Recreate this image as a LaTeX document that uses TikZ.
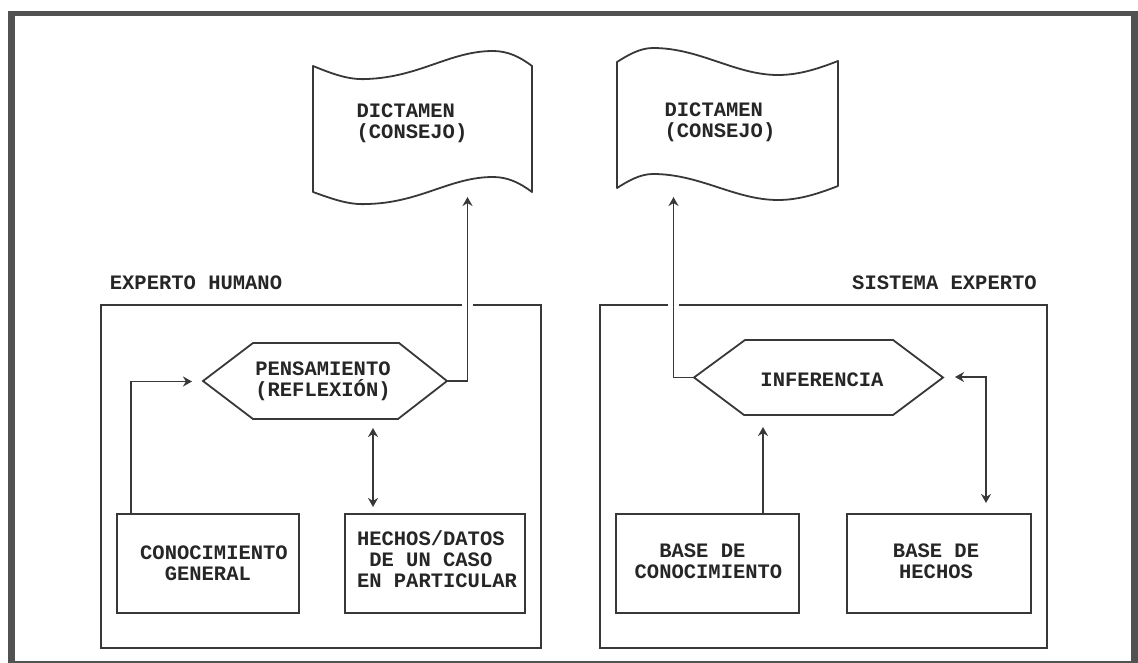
\documentclass[tikz,border=0pt]{standalone}
\usepackage{fontspec}
\setmonofont{Liberation Mono}[BoldFont={Liberation Mono Bold}]
\usetikzlibrary{arrows.meta,calc}
\tikzset{
  ink/.style={draw=black!78,line width=1.8pt},
  frameline/.style={draw=black!68,line cap=butt},
  boxnode/.style={ink,rectangle,inner sep=0pt,outer sep=0pt},
  anchornode/.style={rectangle,inner sep=0pt,outer sep=0pt},
  flagpath/.style={ink,fill=white,line join=round},
  hexpath/.style={ink,line join=miter},
  label/.style={font=\ttfamily\bfseries\fontsize{20.5}{21}\selectfont,text=black!85,inner sep=0pt,outer sep=0pt},
  conn/.style={ink,-{Stealth[length=9pt,width=10pt]}},
  conntwo/.style={ink,{Stealth[length=9pt,width=10pt]}-{Stealth[length=9pt,width=10pt]}},
  gapmask/.style={draw=white,line width=11pt}
}
\begin{document}
\begin{tikzpicture}[x=1pt,y=-1pt]
\useasboundingbox (0,0) rectangle (1138,663);
% outer frame
\draw[frameline,line width=7pt] (11.5,11) -- (11.5,663);
\draw[frameline,line width=5pt] (8,13.5) -- (1138,13.5);
\draw[frameline,line width=7pt] (1134.5,11) -- (1134.5,663);
\draw[frameline,line width=2.5pt] (8,661.8) -- (1138,661.8);
% containers
\node[boxnode,minimum width=440pt,minimum height=343pt] (humano) at (321,476.5) {};
\node[boxnode,minimum width=447pt,minimum height=343pt] (sistema) at (823.5,476.5) {};
% gaps in the containers' top edges
\coordinate (gapA) at (467.5,305);
\coordinate (gapB) at (673.5,305);
\draw[gapmask] ($(gapA)+(0,-3)$) -- ($(gapA)+(0,3)$);
\draw[gapmask] ($(gapB)+(0,-3)$) -- ($(gapB)+(0,3)$);
% flags
\draw[flagpath] (313,66) .. controls (335,75) and (350,80) .. (367,79)
  .. controls (420,77) and (450,51) .. (493,51)
  .. controls (508,51) and (520,57) .. (532,66) -- (532,192)
  .. controls (520,183) and (508,177) .. (493,177)
  .. controls (450,177) and (420,203) .. (367,204)
  .. controls (350,205) and (335,200) .. (313,192) -- cycle;
\draw[flagpath] (617,62) .. controls (628,55) and (640,48) .. (653,48)
  .. controls (700,48) and (735,75) .. (778,75)
  .. controls (800,75) and (820,68) .. (838,61) -- (838,186)
  .. controls (820,193) and (800,200) .. (778,200)
  .. controls (735,200) and (700,174) .. (653,174)
  .. controls (640,174) and (628,181) .. (617,188) -- cycle;
\coordinate (flagAin) at (467.5,197);
\coordinate (flagBin) at (673.5,197);
% hexagons
\node[anchornode,minimum width=244pt,minimum height=76pt] (pens) at (325,381) {};
\draw[hexpath] (pens.west) -- (253,343) -- (399,343) -- (pens.east) -- (398,419) -- (253,419) -- cycle;
\node[anchornode,minimum width=249pt,minimum height=75pt] (infer) at (818.5,377.5) {};
\draw[hexpath] (infer.west) -- (745,340) -- (893,340) -- (infer.east) -- (893,415) -- (744,415) -- cycle;
% boxes
\node[boxnode,minimum width=182pt,minimum height=99pt] (cg) at (208,563.5) {};
\node[boxnode,minimum width=180pt,minimum height=99pt] (hd) at (435,563.5) {};
\node[boxnode,minimum width=183pt,minimum height=99pt] (bc) at (707.5,563.5) {};
\node[boxnode,minimum width=184pt,minimum height=99pt] (bh) at (939,563.5) {};
% connector free ends
\coordinate (pensIn) at (192,381.5);
\coordinate (hdTop) at (373,507);
\coordinate (pensBot) at (373,428);
\coordinate (inferBot) at (763,427);
\coordinate (inferRight) at (955,377);
\coordinate (bhTop) at (986,503);
% connectors
\draw[conn] ($(cg.north west)+(14,0)$) |- (pensIn);
\draw[conn] (pens.east) -| (flagAin);
\draw[conn] (infer.west) -| (flagBin);
\draw[conntwo] (pensBot) -- (hdTop);
\draw[conn] (bc.north -| inferBot) -- (inferBot);
\draw[conntwo] (inferRight) -| (bhTop);
% labels
\node[label,align=left] (t1) at (412,123) {DICTAMEN\\(CONSEJO)};
\node[label,align=left] (t2) at (720,122.5) {DICTAMEN\\(CONSEJO)};
\node[label] (t3) at (196,283) {EXPERTO HUMANO};
\node[label] (t4) at (944.5,283) {SISTEMA EXPERTO};
\node[label,align=center] (t5) at (323,381) {PENSAMIENTO\\(REFLEXIÓN)};
\node[label] (t6) at (822,380) {INFERENCIA};
\node[label,align=left] (t7) at (214,563) {CONOCIMIENTO\\~~GENERAL};
\node[label,align=left] (t8) at (437,559) {HECHOS/DATOS\\~DE UN CASO\\EN PARTICULAR};
\node[label,align=left] (t9) at (708.5,561.5) {~~BASE DE\\CONOCIMIENTO};
\node[label,align=center] (t10) at (936,561) {BASE DE\\HECHOS};
\end{tikzpicture}
\end{document}
